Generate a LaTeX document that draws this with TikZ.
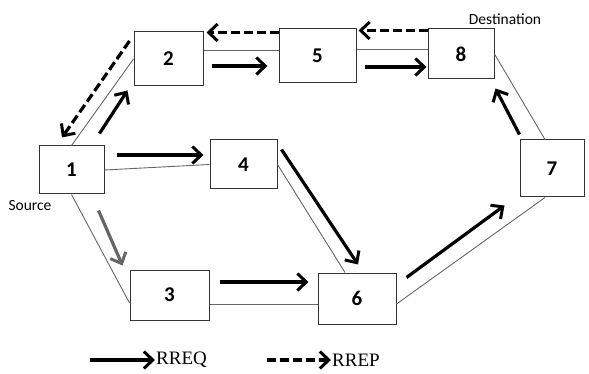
\documentclass[tikz,border=0pt]{standalone}
\usepackage{fontspec}
\setmainfont{Liberation Serif}
\newfontfamily\calib{Carlito}
\usetikzlibrary{positioning,arrows.meta}

\begin{document}
\begin{tikzpicture}[x=1pt,y=-1pt,font=\calib]
            \tikzstyle{box}=[draw=black!80,line width=1pt,font=\calib\bfseries\fontsize{21}{21}\selectfont,inner sep=0pt]
            \tikzstyle{link}=[draw=black!60,line width=0.9pt]
            \tikzstyle{req}=[line width=3.2pt,-{Straight Barb[length=9pt,width=17pt,line width=3pt]}]
            \tikzstyle{rep}=[req,dash pattern=on 9pt off 4pt]
            \useasboundingbox (0,0) rectangle (589,374);

            \node[box,minimum width=65pt,minimum height=48pt] (b1) at (71.5,170) {1};
            \node[box,minimum width=69pt,minimum height=54pt] (b2) at (168.5,59) {2};
            \node[box,minimum width=79pt,minimum height=50pt] (b3) at (169.5,295) {3};
            \node[box,minimum width=67pt,minimum height=49pt] (b4) at (243.5,164.5) {4};
            \node[box,minimum width=77pt,minimum height=54pt] (b5) at (317.5,56) {5};
            \node[box,minimum width=78pt,minimum height=51pt] (b6) at (357,298.5) {6};
            \node[box,minimum width=64pt,minimum height=57pt] (b7) at (552,168.5) {7};
            \node[box,minimum width=66pt,minimum height=50pt] (b8) at (461,54) {8};

            \node[font=\calib\fontsize{15.5}{15.5}\selectfont] (src) at (30,206) {Source};
            \node[font=\calib\fontsize{15.5}{15.5}\selectfont] (dst) at (505,19) {Destination};

            % links
            \draw[link] (b1.north) -- (b2.west);
            \draw[link] ([yshift=9pt]b2.east) -- ([yshift=9pt]b2.east -| b5.west);
            \draw[link] ([yshift=7pt]b5.east) -- ([yshift=7pt]b5.east -| b8.west);
            \draw[link] (b8.east) -- ([xshift=-7pt]b7.north);
            \draw[link] (b1.east) -- (b4.west);
            \draw[link] (b4.east) -- ([xshift=-12pt]b6.north);
            \draw[link] (b1.south) -- ([yshift=-8pt]b3.west);
            \draw[link] ([yshift=-9pt]b3.east) -- ([yshift=-9pt]b3.east -| b6.west);
            \draw[link] ([yshift=-5.5pt]b6.east) -- ([xshift=-7pt]b7.south);

            % RREQ
            \draw[req] ([xshift=-5pt,yshift=12pt]b1.north east) -- ([xshift=-6pt,yshift=-4pt]b2.south west);
            \draw[req] ([xshift=8pt,yshift=-7pt]b2.east) -- ([xshift=-11pt,yshift=-10pt]b5.west);
            \draw[req] ([xshift=8pt,yshift=-11pt]b5.east) -- ([xshift=-1pt,yshift=-13pt]b8.west);
            \draw[req] ([xshift=12pt,yshift=15pt]b1.east) -- ([xshift=-6pt,yshift=9.5pt]b4.west);
            \draw[req] ([xshift=4pt,yshift=-10pt]b4.north east) -- ([xshift=1pt,yshift=8pt]b6.north);
            \draw[req,draw=black!60] ([xshift=-6pt,yshift=-16pt]b1.south east) -- ([xshift=-7pt,yshift=4pt]b3.north west);
            \draw[req] ([xshift=10pt,yshift=13pt]b3.east) -- ([xshift=-9pt,yshift=16.5pt]b6.west);
            \draw[req] ([xshift=10pt,yshift=-5pt]b6.north east) -- ([xshift=-15pt,yshift=-8pt]b7.south west);
            \draw[req] ([yshift=5pt]b7.north west) -- ([xshift=1pt,yshift=-9pt]b8.south east);

            % RREP
            \draw[rep] ([yshift=-2pt]b8.north west) -- ([xshift=2pt,yshift=-2pt]b5.north east);
            \draw[rep] ([yshift=-4pt]b5.north west) -- ([xshift=3pt,yshift=-1pt]b2.north east);
            \draw[rep] ([xshift=-4pt,yshift=18pt]b2.west) -- ([xshift=-9.5pt,yshift=8pt]b1.north);

            % legend
            \node[anchor=west,inner sep=1pt,font=\rmfamily\fontsize{19}{19}\selectfont] (lreq) at (155,360) {RREQ};
            \node[anchor=west,inner sep=1pt,font=\rmfamily\fontsize{19}{19}\selectfont] (lrep) at (331,360) {RREP};
            \coordinate (lreqs) at (90,360);
            \coordinate (lreps) at (267,360);
            \draw[req] (lreqs) -- (lreq.west);
            \draw[rep] (lreps) -- (lrep.west);
        \end{tikzpicture}
\end{document}
